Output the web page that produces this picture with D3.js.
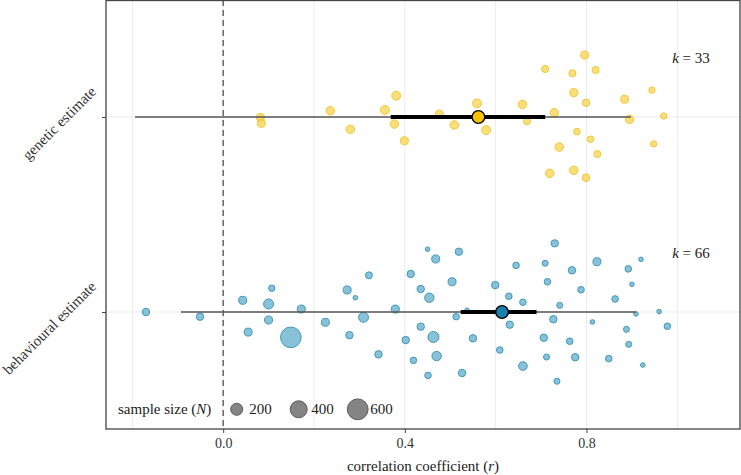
<!DOCTYPE html>
<meta charset="utf-8">
<style>
body { margin: 0; background: white; }
text { font-family: "Liberation Serif", "Times New Roman", serif; fill: #222; }
.grid line { stroke: #ebebeb; stroke-width: 1; }
.axis path, .axis line { stroke: #444; }
</style>
<body>
<svg width="741" height="475"></svg>
<script src="https://d3js.org/d3.v7.min.js"></script>
<script>

// correlation coefficient, vertical jitter (row units) and sample size of each study
var geneticR = [0.082, 0.084, 0.236, 0.280, 0.356, 0.381, 0.377, 0.399, 0.476, 0.509, 0.559,
  0.579, 0.659, 0.669, 0.709, 0.729, 0.740, 0.769, 0.772, 0.779, 0.796, 0.799, 0.809, 0.820,
  0.824, 0.884, 0.895, 0.944, 0.948, 0.970, 0.719, 0.772, 0.799];
var geneticJit = [-0.002, -0.032, 0.032, -0.063, 0.036, 0.109, -0.036, -0.122, 0.015, -0.041, 0.070,
  -0.067, 0.065, -0.022, 0.246, 0.022, -0.154, 0.224, 0.125, -0.075, 0.318, 0.073, -0.114, 0.241,
  -0.190, 0.091, -0.012, 0.138, -0.138, 0.005, -0.289, -0.273, -0.311];
var geneticN = [90, 90, 100, 100, 110, 110, 100, 90, 90, 100, 110,
  110, 100, 70, 70, 100, 100, 70, 90, 60, 90, 75, 60, 70,
  70, 90, 100, 55, 55, 55, 100, 100, 80];

var behavR = [-0.170, -0.051, 0.043, 0.107, 0.100, 0.100, 0.055, 0.149, 0.172, 0.225, 0.273,
  0.291, 0.321, 0.309, 0.278, 0.342, 0.379, 0.450, 0.468, 0.519, 0.413, 0.435, 0.504, 0.454,
  0.537, 0.513, 0.435, 0.402, 0.463, 0.550, 0.419, 0.470, 0.451, 0.526, 0.599, 0.629, 0.660,
  0.645, 0.730, 0.709, 0.714, 0.768, 0.788, 0.741, 0.727, 0.631, 0.609, 0.660, 0.706, 0.712,
  0.763, 0.775, 0.735, 0.823, 0.892, 0.920, 0.900, 0.863, 0.909, 0.960, 0.978, 0.813, 0.888,
  0.893, 0.849, 0.924];
var behavJit = [0.000, -0.024, 0.060, 0.122, 0.041, -0.041, -0.103, -0.130, 0.015, -0.053, 0.113,
  0.073, 0.188, -0.027, -0.119, -0.217, 0.015, 0.322, 0.272, 0.309, 0.195, 0.118, 0.155, 0.073,
  0.010, -0.024, -0.075, -0.144, -0.128, -0.135, -0.248, -0.226, -0.325, -0.313, 0.138, 0.081, 0.050,
  0.239, 0.352, 0.250, 0.155, 0.214, 0.114, 0.034, -0.037, -0.065, -0.195, -0.277, -0.132, -0.231,
  -0.150, -0.232, -0.355, 0.258, 0.221, 0.270, 0.142, 0.067, -0.010, 0.002, -0.073, -0.051, -0.089,
  -0.166, -0.239, -0.272];
var behavN = [76, 76, 89, 57, 139, 89, 89, 590, 89, 89, 89,
  29, 68, 139, 76, 76, 89, 29, 89, 76, 76, 76, 89, 122,
  25, 60, 76, 76, 168, 76, 60, 122, 60, 76, 76, 60, 60,
  60, 76, 50, 60, 76, 60, 50, 76, 76, 60, 103, 76, 50,
  60, 76, 50, 89, 60, 29, 29, 60, 29, 29, 60, 29, 50,
  50, 60, 29];

// pooled estimate: mean, 95% CI, prediction interval
var groups = ["behavioural estimate", "genetic estimate"];
var pooledMean = [0.614, 0.562];
var ciLow = [0.523, 0.369], ciHigh = [0.690, 0.709];
var piLow = [-0.093, -0.194], piHigh = [0.909, 0.898];
var kLabels = ["66", "33"];

var xTicks = [0.0, 0.4, 0.8];
var xGrid = [-0.2, 0, 0.2, 0.4, 0.6, 0.8, 1.0];
var legendN = [200, 400, 600];

var fills = ["#55a8c8", "#f7d040"];
var strokes = ["#3f98ba", "#f0c93a"];
var meanFills = ["#1b81aa", "#f7c200"];

var svg = d3.select("svg");

var x = d3.scaleLinear().domain([-0.258, 1.138]).range([106, 740]);
var y = d3.scaleLinear().domain([0.4, 2.6]).range([429, 0]);
var size = d3.scaleSqrt().domain([0, 600]).range([0, 10.4]);

// grid
var grid = svg.append("g").attr("class", "grid");
grid.selectAll(".v").data(xGrid).enter().append("line")
    .attr("x1", function(d) { return x(d); }).attr("x2", function(d) { return x(d); })
    .attr("y1", 0).attr("y2", 429);
grid.selectAll(".h").data([1, 2]).enter().append("line")
    .attr("x1", 106).attr("x2", 740)
    .attr("y1", function(d) { return y(d); }).attr("y2", function(d) { return y(d); });

// zero line
svg.append("line")
    .attr("x1", x(0)).attr("x2", x(0)).attr("y1", 0).attr("y2", 429)
    .attr("stroke", "#666").attr("stroke-width", 1.5).attr("stroke-dasharray", "6,4");

function points(rs, jit, ns, g) {
  var data = rs.map(function(r, i) { return {r: r, j: jit[i], n: ns[i]}; });
  svg.append("g").selectAll("circle").data(data).enter().append("circle")
      .attr("cx", function(d) { return x(d.r); })
      .attr("cy", function(d) { return y(g + 1 + d.j); })
      .attr("r", function(d) { return size(d.n); })
      .attr("fill", fills[g]).attr("fill-opacity", 0.7)
      .attr("stroke", strokes[g]).attr("stroke-width", 1);
}
points(behavR, behavJit, behavN, 0);
points(geneticR, geneticJit, geneticN, 1);

// prediction intervals, CIs and pooled means
groups.forEach(function(name, g) {
  svg.append("line")
      .attr("x1", x(piLow[g])).attr("x2", x(piHigh[g]))
      .attr("y1", y(g + 1)).attr("y2", y(g + 1))
      .attr("stroke", "#555").attr("stroke-width", 1.6);
  svg.append("line")
      .attr("x1", x(ciLow[g])).attr("x2", x(ciHigh[g]))
      .attr("y1", y(g + 1)).attr("y2", y(g + 1))
      .attr("stroke", "black").attr("stroke-width", 4);
  svg.append("circle")
      .attr("cx", x(pooledMean[g])).attr("cy", y(g + 1)).attr("r", 6.3)
      .attr("fill", meanFills[g]).attr("stroke", "black").attr("stroke-width", 1.3);
  var t = svg.append("text")
      .attr("x", x(1.03)).attr("y", y(g + 1 + 0.277))
      .attr("text-anchor", "middle").style("font-size", "15px");
  t.append("tspan").style("font-style", "italic").text("k");
  t.append("tspan").text(" = " + kLabels[g]);
});

// panel border
svg.append("rect")
    .attr("x", 106).attr("y", 0.5).attr("width", 634).attr("height", 428.5)
    .attr("fill", "none").attr("stroke", "#444").attr("stroke-width", 1.3);

// x axis
var xAxis = svg.append("g")
    .attr("class", "axis")
    .attr("transform", "translate(0,429)")
    .call(d3.axisBottom(x).tickValues(xTicks).tickFormat(d3.format(".1f")).tickSize(4).tickPadding(5));
xAxis.select(".domain").remove();
xAxis.selectAll("text").style("font-size", "14px").style("fill", "#333");

var xt = svg.append("text")
    .attr("x", 423).attr("y", 471)
    .attr("text-anchor", "middle").style("font-size", "15px");
xt.append("tspan").text("correlation coefficient (");
xt.append("tspan").style("font-style", "italic").text("r");
xt.append("tspan").text(")");

// y axis
var yAxis = svg.append("g")
    .attr("class", "axis")
    .attr("transform", "translate(106,0)")
    .call(d3.axisLeft(y).tickValues([1, 2]).tickFormat(function(d) { return groups[d - 1]; }).tickSize(4));
yAxis.select(".domain").remove();
yAxis.selectAll("text")
    .attr("x", 0).attr("dy", 0)
    .attr("transform", "translate(-9,-25) rotate(-45)")
    .style("text-anchor", "end")
    .style("font-size", "15px").style("fill", "#333");

// size legend
var leg = svg.append("g");
var lt = leg.append("text").attr("x", 118).attr("y", 414).style("font-size", "15px");
lt.append("tspan").text("sample size (");
lt.append("tspan").style("font-style", "italic").text("N");
lt.append("tspan").text(")");
var legX = [236.7, 298.7, 357.7];
leg.selectAll("circle").data(legendN).enter().append("circle")
    .attr("cx", function(d, i) { return legX[i]; })
    .attr("cy", 409.3)
    .attr("r", function(d) { return size(d); })
    .attr("fill", "#777").attr("fill-opacity", 0.9)
    .attr("stroke", "#5a5a5a").attr("stroke-width", 1);
leg.selectAll(".lab").data(legendN).enter().append("text")
    .attr("x", function(d, i) { return legX[i] + 12.5; })
    .attr("y", 414)
    .style("font-size", "15px")
    .text(function(d) { return d; });

</script>
</body>
